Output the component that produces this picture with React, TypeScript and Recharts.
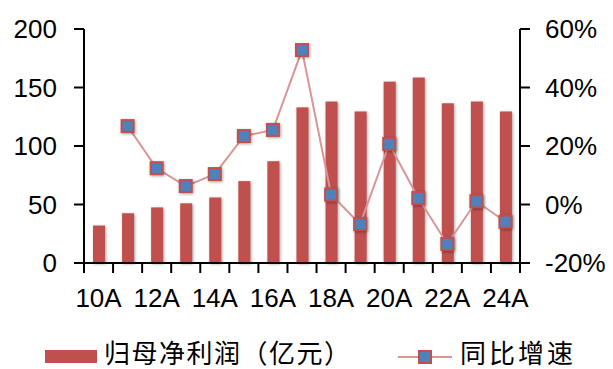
import React from "react";
import {
  ComposedChart,
  Bar,
  Line,
  XAxis,
  YAxis,
  Legend,
} from "recharts";

const years = [
  "10A", "11A", "12A", "13A", "14A", "15A", "16A", "17A",
  "18A", "19A", "20A", "21A", "22A", "23A", "24A",
];
const netProfit = [32, 42.5, 47.5, 51, 56, 70, 87, 133, 138, 129.5, 155, 158.5, 136.5, 138, 129.5];
const yoyGrowth = [null, 26.8, 12.4, 6.3, 10.4, 23.4, 25.5, 52.8, 3.4, -6.7, 20.7, 2.2, -13.5, 1.1, -5.9];
const leftTicks = [0, 50, 100, 150, 200];
const rightTicks = [-20, 0, 20, 40, 60];

const data = years.map((year, i) => ({
  year,
  profit: netProfit[i],
  yoy: yoyGrowth[i],
}));

const W = 613;
const H = 369;
const LEFT_W = 84;
const RIGHT_W = 93;
const BAND = (W - LEFT_W - RIGHT_W) / years.length;

const BAR_COLOR = "#C0504D";
const LINE_COLOR = "#D99694";
const MARKER_FILL = "#4F81BD";
const AXIS_FONT = "'Liberation Sans', Arial, sans-serif";
const CJK_FONT = "'Noto Sans CJK SC', sans-serif";
const SHADOW = "drop-shadow(1px 1px 1.5px rgba(0,0,0,0.35))";

function XTick(props: any) {
  const { x, y, index } = props;
  const isLast = index === years.length - 1;
  return (
    <g>
      <line x1={x - BAND / 2} x2={x - BAND / 2} y1={y} y2={y + 10} stroke="#000" strokeWidth={2} />
      {isLast && (
        <line x1={x + BAND / 2} x2={x + BAND / 2} y1={y} y2={y + 10} stroke="#000" strokeWidth={2} />
      )}
      {index % 2 === 0 && (
        <text x={x} y={y + 44} textAnchor="middle" fontSize={26} fontFamily={AXIS_FONT} fill="#000">
          {years[index]}
        </text>
      )}
    </g>
  );
}

function BarShape(props: any) {
  const { x, y, width, height } = props;
  return <rect x={x} y={y} width={width} height={height} fill={BAR_COLOR} style={{ filter: SHADOW }} />;
}

function Marker(props: any) {
  const { cx, cy, value } = props;
  if (value == null || cx == null || cy == null) return null;
  return (
    <rect
      x={cx - 6}
      y={cy - 6}
      width={12}
      height={12}
      fill={MARKER_FILL}
      stroke={BAR_COLOR}
      strokeWidth={2}
      style={{ filter: SHADOW }}
    />
  );
}

function LegendContent() {
  return (
    <svg width={W} height={56} style={{ display: "block", overflow: "visible" }}>
      <rect x={45} y={37} width={52} height={13} fill={BAR_COLOR} />
      <text x={104} y={50} fontSize={26} fontFamily={CJK_FONT} letterSpacing={1.5} fill="#000">
        归母净利润（亿元）
      </text>
      <line x1={398} x2={452} y1={44} y2={44} stroke={LINE_COLOR} strokeWidth={2} />
      <rect x={419} y={38} width={12} height={12} fill={MARKER_FILL} stroke={BAR_COLOR} strokeWidth={2} />
      <text x={460} y={50} fontSize={26} fontFamily={CJK_FONT} letterSpacing={3} fill="#000">
        同比增速
      </text>
    </svg>
  );
}

export default function App() {
  return (
    <div style={{ position: "absolute", left: 0, top: 0, width: W, height: H, background: "#fff" }}>
      <ComposedChart width={W} height={H} data={data} margin={{ top: 29, right: 0, bottom: 0, left: 0 }}>
        <XAxis
          dataKey="year"
          interval={0}
          tickLine={false}
          tickSize={0}
          tickMargin={0}
          height={50}
          axisLine={{ stroke: "#000", strokeWidth: 2 }}
          tick={<XTick />}
        />
        <YAxis
          yAxisId="left"
          width={LEFT_W}
          domain={[0, 200]}
          ticks={leftTicks}
          tickSize={10}
          tickMargin={17}
          axisLine={{ stroke: "#000", strokeWidth: 2 }}
          tickLine={{ stroke: "#000", strokeWidth: 2 }}
          tick={{ fontSize: 26, fill: "#000", fontFamily: AXIS_FONT }}
        />
        <YAxis
          yAxisId="right"
          orientation="right"
          width={RIGHT_W}
          domain={[-20, 60]}
          ticks={rightTicks}
          tickSize={10}
          tickMargin={15}
          tickFormatter={(v) => `${v}%`}
          axisLine={{ stroke: "#000", strokeWidth: 2 }}
          tickLine={{ stroke: "#000", strokeWidth: 2 }}
          tick={{ fontSize: 26, fill: "#000", fontFamily: AXIS_FONT, textAnchor: "start" }}
        />
        <Legend verticalAlign="bottom" height={56} content={<LegendContent />} />
        <Bar yAxisId="left" dataKey="profit" fill={BAR_COLOR} barSize={12} shape={<BarShape />} isAnimationActive={false} />
        <Line
          yAxisId="right"
          dataKey="yoy"
          type="linear"
          stroke={LINE_COLOR}
          strokeWidth={2}
          dot={<Marker />}
          activeDot={false}
          isAnimationActive={false}
        />
      </ComposedChart>
    </div>
  );
}
